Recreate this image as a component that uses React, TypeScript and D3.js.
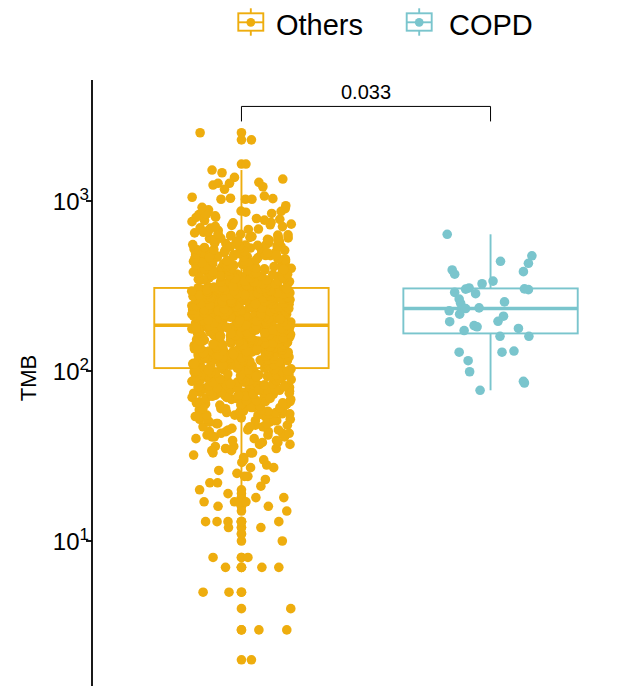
import React from "react";
import * as d3 from "d3";

const W = 630;
const H = 686;

const groups = ["Others", "COPD"];
const groupColors = ["#EEAD0E", "#7AC5CD"];
const yTicks = [10, 100, 1000];
const pLabel = "0.033";
const bracketValue = 3600;

// Others: the sparse top values, read one by one, with their jitter (-1..1 of jitter width)
const othersHigh = [2520, 2290, 1650, 1521, 1466, 1377, 1346, 1287, 1241, 1271, 1271, 1172, 1213, 1052, 1024, 1038, 1024, 1024, 1069, 1032, 918, 938];
const othersHighJitter = [-0.83, 0.2, 0.09, -0.59, -0.39, -0.14, 0.83, 0.35, -0.57, -0.47, -0.24, -0.34, 0.43, -0.99, -0.41, -0.22, 0.08, 0.21, 0.46, 0.63, -0.79, 0.89];

// Others: the sparse low values
const othersLow = [20, 17, 16, 19, 18, 21, 16, 18, 15, 17, 17, 22, 13, 13, 13, 12, 12, 13, 11, 10, 8, 8, 7, 7, 7, 5, 5, 4, 3, 3, 2];
const othersLowJitter = [-0.84, -0.75, -0.47, -0.27, 0.29, 0.39, 0.54, 0.85, 0.91, -0.14, 0.09, -0.48, -0.72, -0.49, -0.27, -0.26, 0.39, 0.75, 0.0, 0.82, -0.57, 0.13, -0.32, 0.41, 0.75, -0.77, -0.25, 0.99, 0.35, 0.91, 0.2];

// Others: the dense core
const othersCore = [
  22, 23, 24, 25, 26, 27, 28, 29, 30, 31,
  32, 33, 33, 34, 35, 35, 36, 36, 37, 38, 38, 39,
  40, 40, 41, 41, 42, 42, 43, 44, 44, 45, 45, 46, 46, 47, 48, 48, 49, 49,
  50, 51, 51, 52, 53, 53, 54, 54, 55, 56, 56, 57, 57, 58, 59, 59, 60, 60, 61, 62, 62, 63,
  63, 64, 64, 65, 66, 66, 67, 68, 68, 69, 70, 70, 71, 72, 72, 73, 74, 74, 75, 75, 76, 77, 77, 78, 78, 79,
  79, 80, 80, 81, 82, 83, 83, 84, 85, 86, 86, 87, 88, 89, 89, 90, 91, 92, 92, 93, 94, 95, 95, 96, 97, 98, 98, 99, 100, 100, 101, 101, 102, 102,
  103, 103, 104, 104, 105, 106, 106, 107, 107, 108, 108, 109, 110, 110, 111, 111, 112, 112, 113, 114, 114, 115, 115, 116, 116, 117, 117, 118, 119, 119,
  120, 120, 121, 121, 122, 122, 123, 124, 124, 125, 125, 126, 126, 127, 127, 128, 129, 129, 130, 130, 131, 131, 132, 132, 133, 134, 134, 135, 135, 136,
  136, 137, 137, 138, 139, 139, 140, 140, 141, 141, 142, 142, 143, 144, 144, 145, 145, 146, 146, 147, 147, 148, 149, 149, 150, 150, 151, 151, 152, 152,
  153, 154, 154, 155, 155, 156, 156, 157, 157, 158, 159, 159, 160, 160, 161, 161, 162, 162, 163, 164, 164, 165, 165, 166, 166, 167, 167, 168, 169, 169,
  170, 170, 171, 171, 172, 172, 173, 174, 174, 175, 175, 176, 176, 177, 177, 178, 179, 179, 180, 180, 181, 181, 182, 182, 183, 184, 184, 185, 185,
  186, 187, 188, 188, 189, 190, 191, 192, 193, 193, 194, 195, 196, 197, 197, 198, 199, 200, 201, 201, 202, 203, 204, 205, 205, 206, 207, 208, 209, 210,
  210, 211, 212, 213, 214, 214, 215, 216, 217, 218, 218, 219, 220, 221, 222, 223, 223, 224, 225, 226, 227, 227, 228, 229, 230, 231, 232, 232, 233, 234,
  235, 236, 236, 237, 238, 239, 240, 241, 241, 242, 243, 244, 245, 245, 246, 247, 248, 249, 250, 250, 251, 252, 253, 254, 254, 255, 256, 257, 258, 259,
  259, 260, 261, 262, 263, 263, 264, 265, 266, 267, 268, 268, 269, 270, 271, 272, 272, 273, 274, 275, 276, 277, 277, 278, 279, 280, 281, 281, 282, 283,
  284, 285, 286, 286, 287, 288, 289, 290, 290, 291, 292, 293, 294, 295, 295, 296, 297, 298, 299, 299, 300, 301, 302, 303, 304, 304, 305,
  306, 308, 309, 311, 313, 314, 316, 318, 320, 321, 323, 325, 327, 329, 330, 332, 334, 336, 338, 340, 341, 343, 345, 347, 349, 351, 353, 354, 356, 358,
  360, 362, 364, 366, 368, 370, 372, 374, 376, 378, 380, 383, 385, 387, 389, 392, 394, 397,
  399, 402, 405, 407, 410, 413, 415, 418, 421, 424, 426, 429, 432, 435, 438, 441, 444, 447, 450, 453, 456, 459, 462, 465, 468, 471, 474, 477, 480, 483,
  486, 489, 492, 495, 497, 500,
  503, 508, 513, 518, 524, 529, 534, 540, 545, 551, 556, 562, 567, 573, 578, 584, 589, 595, 601, 606, 612, 618, 623, 627, 630,
  638, 649, 660, 672, 684, 695, 707, 719, 731, 744, 756, 768, 780, 789,
  803, 817, 831, 845, 859, 873, 888, 902,
];

// Others: more of the dense core (the blob hides many overlapping samples)
const othersCoreMore = [
  24, 27, 30, 33, 34, 37, 39, 41, 43, 43, 44, 45, 47, 47, 49, 50, 51, 52, 52, 54, 55, 55, 56, 57, 58, 58, 59, 60, 61, 61,
  62, 63, 64, 65, 65, 66, 67, 67, 68, 69, 69, 70, 71, 71, 72, 73, 73, 74, 75, 76, 76, 77, 78, 78, 79, 80, 80, 81, 81, 82,
  83, 83, 84, 84, 85, 86, 86, 87, 87, 88, 88, 89, 90, 90, 91, 91, 92, 93, 93, 94, 94, 95, 95, 96, 96, 97, 97, 98, 99, 99,
  100, 100, 101, 101, 102, 102,
  104, 105, 106, 107, 108, 109, 110, 110, 112, 113, 114, 114, 115, 116, 116, 118, 118, 119, 120, 121, 122, 122, 123, 124, 125, 126, 126, 127, 128, 128,
  129, 130, 130, 131, 132, 133, 134, 134, 135, 136, 136, 137, 138, 138, 139, 140, 141, 142, 142, 143, 144, 144, 145, 146, 146, 147, 148, 149, 150, 150,
  151, 152, 152, 153, 154, 154, 155, 156, 157, 158, 158, 159, 160, 160, 161, 162, 162, 163, 164, 165, 166, 166, 167, 168, 168, 169, 170, 170, 171, 172,
  173, 174, 174, 175, 176, 176, 177, 178, 178, 179, 180, 181, 182, 182, 183, 184, 184, 185,
  186, 187, 189, 190, 190, 191, 192, 194, 195, 196, 196, 198, 199, 200, 202, 203, 204, 206, 207, 208, 209, 210, 211, 212, 213, 215, 216, 217, 219, 220,
  221, 222, 224, 224, 225, 226, 228, 229, 230, 230, 231, 233, 234, 235, 237, 238, 238, 239, 240, 242, 243, 244, 246, 247, 248, 250, 251, 252, 252, 253,
  255, 256, 257, 259, 260, 261, 262, 264, 265, 266, 266, 268, 269, 270, 270, 271, 273, 274, 275, 277, 278, 279, 280, 280, 282, 283, 284, 286, 287, 288,
  289, 291, 292, 293, 294, 295, 296, 297, 298, 300, 301, 302, 304, 305,
  307, 310, 312, 315, 317, 319, 322, 324, 326, 328, 331, 333, 335, 337, 339, 342, 344, 346, 348, 350, 352, 355, 357, 359, 361, 363, 365, 367, 369, 371,
  373, 375, 377, 379, 382, 384, 386, 388, 391, 393, 395, 398, 401, 404, 408, 411, 414, 417, 420, 423, 427, 430, 434, 437, 440, 443, 446, 449, 452, 455,
  458, 461, 466, 470, 474, 478, 482, 487, 491, 496,
  505, 511, 516, 522, 527, 533, 538, 543, 548, 554, 560, 565, 571, 577, 583, 590, 597, 604, 611, 620, 632, 644, 655, 667, 680, 693, 710, 725, 748, 772,
  800, 840, 870,
];

// COPD values and their jitter
const copdTMB = [637, 476, 430, 442, 393, 371, 384, 338, 326, 308, 303, 304, 301, 290, 285, 265, 255, 250, 235, 233, 226, 216, 195, 210, 196, 185, 182, 173, 178, 160, 160, 129, 129, 131, 115, 99, 87, 85, 77];
const copdJitter = [-0.87, 0.83, 0.76, 0.2, -0.77, -0.72, 0.66, 0.05, -0.17, -0.43, -0.5, 0.68, 0.76, -0.72, -0.3, -0.63, 0.28, -0.6, -0.23, -0.5, -0.83, -0.62, -0.82, 0.26, 0.15, -0.33, -0.27, -0.53, 0.56, 0.19, 0.77, -0.63, 0.23, 0.47, -0.45, -0.42, 0.66, 0.68, -0.21];

const FONT = "'Liberation Sans', Arial, Helvetica, sans-serif";

function boxStats(values: number[]) {
  const logs = values.map((v) => Math.log10(v)).sort(d3.ascending);
  const q1 = d3.quantileSorted(logs, 0.25) as number;
  const med = d3.quantileSorted(logs, 0.5) as number;
  const q3 = d3.quantileSorted(logs, 0.75) as number;
  const iqr = q3 - q1;
  const lo = q1 - 1.5 * iqr;
  const hi = q3 + 1.5 * iqr;
  const inside = logs.filter((v) => v >= lo && v <= hi);
  const p = (v: number) => Math.pow(10, v);
  return {
    q1: p(q1),
    med: p(med),
    q3: p(q3),
    wMin: p(d3.min(inside) as number),
    wMax: p(d3.max(inside) as number),
    outliers: logs.filter((v) => v < lo || v > hi).map(p),
  };
}

// deterministic scatter for the core's horizontal jitter (position only)
const hashJitter = (i: number) => {
  const s = Math.sin(i * 12.9898 + 78.233) * 43758.5453;
  return (s - Math.floor(s)) * 2 - 1;
};

export default function App() {
  // discrete x with ggplot's 0.6 expansion, log y
  const x = d3.scalePoint<string>().domain(groups).range([92, 640]).padding(0.6);
  const step = x.step();
  const boxW = 0.7 * step;
  const jitW = 0.2 * step;
  const y = d3.scaleLog().domain([10, 1000]).range([541, 201]);

  const core = [...othersCore, ...othersCoreMore];
  const othersAll = [...othersHigh, ...othersLow, ...core];
  const stats = [boxStats(othersAll), boxStats(copdTMB)];

  const points: { v: number; j: number; g: number }[] = [];
  core.forEach((v, i) => points.push({ v, j: hashJitter(i), g: 0 }));
  othersLow.forEach((v, i) => points.push({ v, j: othersLowJitter[i], g: 0 }));
  othersHigh.forEach((v, i) => points.push({ v, j: othersHighJitter[i], g: 0 }));
  copdTMB.forEach((v, i) => points.push({ v, j: copdJitter[i], g: 1 }));

  const r = 4.8;
  const x0 = x(groups[0]) as number;
  const x1 = x(groups[1]) as number;
  const by = y(bracketValue);

  const legendItems = [
    { key: 238.3, text: 276 },
    { key: 406.7, text: 449 },
  ];

  return (
    <svg width={W} height={H} style={{ position: "absolute", left: 0, top: 0, background: "#fff" }} fontFamily={FONT}>
      {/* boxes */}
      {stats.map((s, gi) => {
        const cx = x(groups[gi]) as number;
        const col = groupColors[gi];
        return (
          <g key={gi}>
            <line x1={cx} x2={cx} y1={y(s.q3)} y2={y(s.wMax)} stroke={col} strokeWidth={1.9} />
            <line x1={cx} x2={cx} y1={y(s.q1)} y2={y(s.wMin)} stroke={col} strokeWidth={1.9} />
            <rect x={cx - boxW / 2} y={y(s.q3)} width={boxW} height={y(s.q1) - y(s.q3)} fill="#fff" stroke={col} strokeWidth={1.9} />
            <line x1={cx - boxW / 2} x2={cx + boxW / 2} y1={y(s.med)} y2={y(s.med)} stroke={col} strokeWidth={3.6} />
            {s.outliers.map((o, k) => (
              <circle key={k} cx={cx} cy={y(o)} r={r} fill={col} />
            ))}
          </g>
        );
      })}

      {/* jitter points */}
      {points.map((p, i) => (
        <circle key={i} cx={(x(groups[p.g]) as number) + p.j * jitW} cy={y(p.v)} r={r} fill={groupColors[p.g]} />
      ))}

      {/* y axis */}
      <line x1={92} x2={92} y1={80} y2={H} stroke="#000" strokeWidth={1.8} />
      {yTicks.map((t) => (
        <g key={t}>
          <line x1={86} x2={92} y1={y(t)} y2={y(t)} stroke="#000" strokeWidth={1.8} />
          <text x={89} y={y(t) + 9} textAnchor="end" fontSize={24} fill="#000">
            10
            <tspan fontSize={17} dy={-10}>{Math.round(Math.log10(t))}</tspan>
          </text>
        </g>
      ))}
      <text transform={`translate(36,378) rotate(-90)`} textAnchor="middle" fontSize={22} fill="#000">
        TMB
      </text>

      {/* comparison bracket */}
      <path d={`M${x0},${by + 15}V${by}H${x1}V${by + 15}`} fill="none" stroke="#000" strokeWidth={1} />
      <text x={(x0 + x1) / 2} y={by - 7} textAnchor="middle" fontSize={20} fill="#000">
        {pLabel}
      </text>

      {/* legend */}
      {groups.map((g, gi) => {
        const lx = legendItems[gi].key;
        const col = groupColors[gi];
        const cx = lx + 12.5;
        return (
          <g key={g}>
            <line x1={cx} x2={cx} y1={8.3} y2={35.7} stroke={col} strokeWidth={1.9} />
            <rect x={lx} y={13.3} width={25} height={17.4} fill="#fff" stroke={col} strokeWidth={1.9} />
            <line x1={lx} x2={lx + 25} y1={22.3} y2={22.3} stroke={col} strokeWidth={1.9} />
            <circle cx={cx} cy={22.3} r={4.4} fill={col} />
            <text x={legendItems[gi].text} y={35} fontSize={29} fill="#000">
              {g}
            </text>
          </g>
        );
      })}
    </svg>
  );
}
